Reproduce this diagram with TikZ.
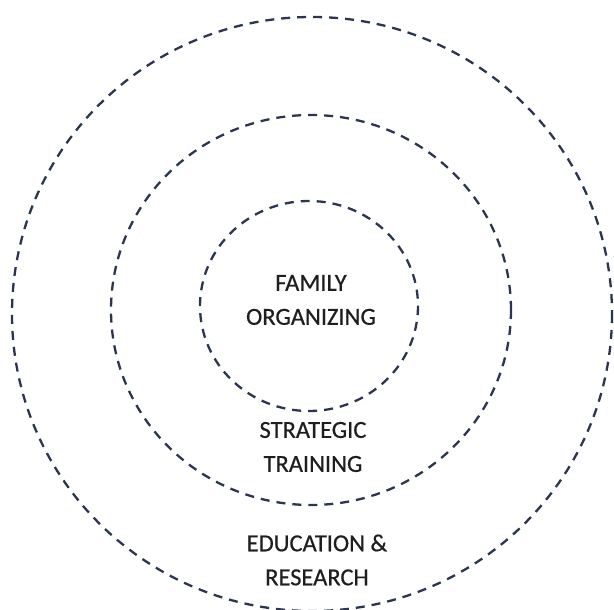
\documentclass[tikz,border=0pt]{standalone}
\usepackage{fontspec}
\setmainfont{Carlito}
\newfontfamily\lblfont[FakeBold=0.5]{Carlito}
\definecolor{ringcol}{HTML}{2B3550}
\definecolor{txtcol}{HTML}{1E1E1E}
\begin{document}
\begin{tikzpicture}[x=1pt,y=-1pt,
  ring/.style={draw=ringcol,line width=2.3pt,dash pattern=on 9pt off 7pt},
  lbl/.style={text=txtcol,font=\lblfont\fontsize{24.5}{34}\selectfont,align=center,inner sep=0pt}]
\useasboundingbox (0,0) rectangle (614,610);
\clip (0,0) rectangle (614,610);
\draw[ring] (312,314) ellipse [x radius=300, y radius=297];
\draw[ring] (311,310) ellipse [x radius=200, y radius=195];
\draw[ring] (309,306) ellipse [x radius=109, y radius=105];
\node[lbl] (inner) at (311,300) {FAMILY\\ORGANIZING};
\node[lbl] (mid) at (313,447) {STRATEGIC\\TRAINING};
\node[lbl] (outer) at (317,560) {EDUCATION \&\\RESEARCH};
\end{tikzpicture}
\end{document}
